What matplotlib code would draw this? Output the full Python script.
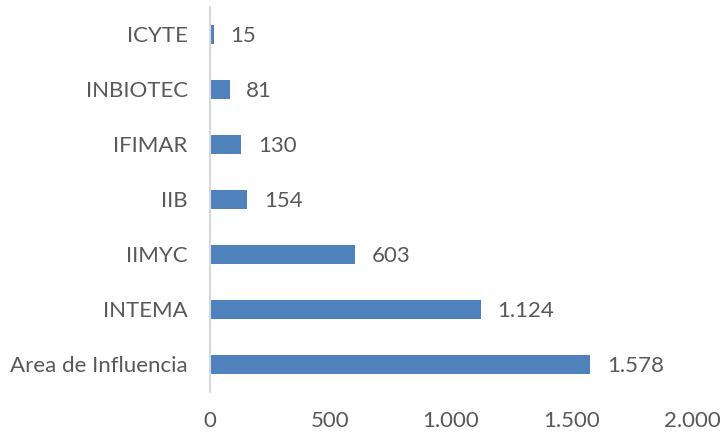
import matplotlib
matplotlib.use("Agg")
import matplotlib.pyplot as plt

categories = ["Area de Influencia", "INTEMA", "IIMYC", "IIB", "IFIMAR", "INBIOTEC", "ICYTE"]
values = [1578, 1124, 603, 154, 130, 81, 15]
xticks = [0, 500, 1000, 1500, 2000]

def fmt(v):
    return f"{v:,}".replace(",", ".")

plt.rcParams['font.family'] = ['Lato', 'DejaVu Sans']
txt = '#595959'
fs = 16

fig = plt.figure(figsize=(7.25, 4.34), dpi=100)
ax = fig.add_axes([0.2897, 0.0968, 0.9545 - 0.2897, 0.9839 - 0.0968])

ypos = list(range(len(categories)))
bars = ax.barh(ypos, values, height=0.35, color='#4F81BD')
for y, v in zip(ypos, values):
    ax.annotate(fmt(v), (v, y), xytext=(12, 0), textcoords='offset points',
                va='center_baseline', ha='left', fontsize=fs, color=txt)

ax.set_xlim(0, 2000)
ax.set_ylim(-0.5, len(categories) - 0.5)
ax.set_yticks(ypos)
ax.set_yticklabels(categories, fontsize=fs, color=txt)
ax.set_xticks(xticks)
ax.set_xticklabels([fmt(t) for t in xticks], fontsize=fs, color=txt)
ax.tick_params(axis='both', length=0)
ax.tick_params(axis='y', pad=16)
ax.tick_params(axis='x', pad=14)
for s in ['top', 'right', 'bottom']:
    ax.spines[s].set_visible(False)
ax.spines['left'].set_color('#D9D9D9')
ax.spines['left'].set_linewidth(1.5)

fig.savefig('out.png', dpi=100)
